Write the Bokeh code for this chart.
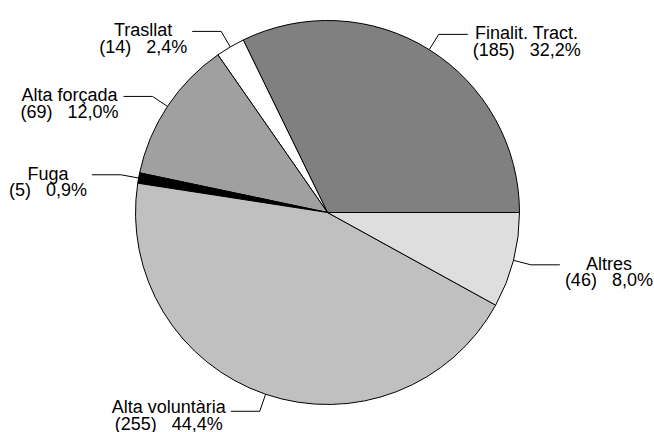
import math
from bokeh.plotting import figure
from bokeh.models import Range1d, ColumnDataSource
from bokeh.core.properties import value
from bokeh.embed import file_html
from bokeh.resources import INLINE

# ---- data ----
categories = ["Finalit. Tract.", "Trasllat", "Alta forçada", "Fuga", "Alta voluntària", "Altres"]
counts = [185, 14, 69, 5, 255, 46]
colors = ["#808080", "#ffffff", "#a0a0a0", "#000000", "#c0c0c0", "#dedede"]

# ---- layout ----
W, H = 654, 432
CX, CY = 327, 220          # pie centre (data units = pixels, y up)
R = 192
KNEE = 18
ARM = 29
GAP = 5
FS = 18
LINE = 16.5
RAISE = 1
BOTTOM_PAD = 9            # lowest allowed baseline (data units above bottom)
NB = "\u00a0"

# Helvetica/Arial advance widths (per 1000 em) for label centring
ADV = {' ': 278, NB: 278, '(': 333, ')': 333, ',': 278, '%': 889, '.': 278,
       'A': 667, 'F': 611, 'T': 611, 'a': 556, 'c': 500, 'ç': 500, 'd': 556,
       'e': 556, 'f': 278, 'g': 556, 'i': 222, 'l': 222, 'n': 556, 'o': 556,
       'r': 333, 's': 500, 't': 278, 'u': 556, 'v': 500, 'à': 556}
for d in "0123456789":
    ADV[d] = 556


def text_width(s):
    return sum(ADV.get(ch, 556) for ch in s) * FS / 1000.0


total = sum(counts)
fractions = [c / total for c in counts]
starts, ends = [], []
acc = 0.0
for f in fractions:
    starts.append(acc * 2 * math.pi)
    acc += f
    ends.append(acc * 2 * math.pi)

p = figure(width=W, height=H, output_backend="svg", toolbar_location=None,
           x_range=Range1d(0, W), y_range=Range1d(0, H),
           x_axis_type=None, y_axis_type=None, min_border=0,
           background_fill_color="white", border_fill_color="white")
p.outline_line_color = None
p.grid.visible = False

src = ColumnDataSource(dict(start=starts, end=ends, color=colors, cat=categories))
p.wedge(x=CX, y=CY, radius=R, start_angle="start", end_angle="end",
        direction="anticlock", fill_color="color", line_color="black",
        line_width=1, source=src)

xs, ys = [], []
l1x, l1y, l1t = [], [], []
l2x, l2y, l2t = [], [], []
for cat, c, f, a0, a1 in zip(categories, counts, fractions, starts, ends):
    mid = (a0 + a1) / 2
    ex, ey = CX + R * math.cos(mid), CY + R * math.sin(mid)
    kx, ky = CX + (R + KNEE) * math.cos(mid), CY + (R + KNEE) * math.sin(mid)
    side = 1 if math.cos(mid) >= 0 else -1
    hx = kx + side * ARM
    xs.append([ex, kx, hx])
    ys.append([ey, ky, ky])
    pct = f"{f * 100:.1f}".replace(".", ",") + "%"
    line2 = f"({c})" + NB * 3 + pct
    w = max(text_width(cat), text_width(line2))
    tx = hx + side * (GAP + w / 2)
    base1 = ky + RAISE
    base1 = max(base1, BOTTOM_PAD + LINE)
    l1x.append(tx); l1y.append(base1); l1t.append(cat)
    l2x.append(tx); l2y.append(base1 - LINE); l2t.append(line2)

p.multi_line(xs=xs, ys=ys, line_color="black", line_width=1)

for tx, ty, tt in ((l1x, l1y, l1t), (l2x, l2y, l2t)):
    p.text(x=tx, y=ty, text=tt, text_align="center", text_baseline="alphabetic",
           text_font=value("Liberation Sans"), text_font_size=f"{FS}px",
           text_color="black")

open("out.html", "w").write(file_html(p, INLINE))
